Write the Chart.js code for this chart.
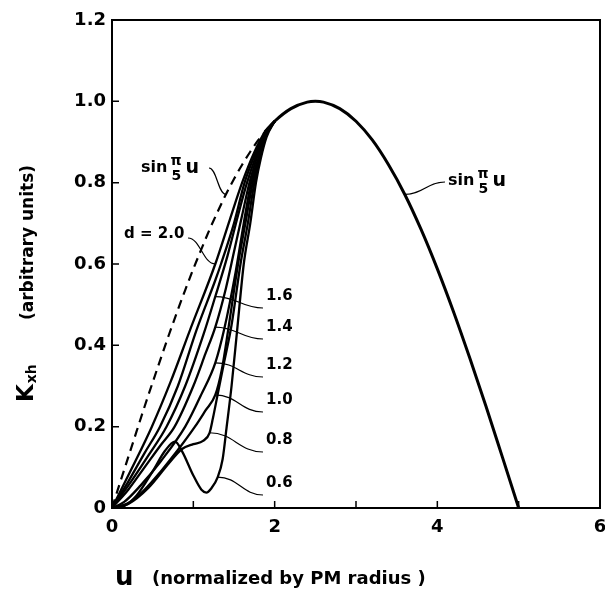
<!DOCTYPE html>
<html><head><meta charset="utf-8">
<script src="https://cdn.jsdelivr.net/npm/chart.js@4.4.0/dist/chart.umd.min.js"></script>
<style>html,body{margin:0;padding:0;background:#fff}#wrap{width:605px;height:604px}</style>
</head><body><div id="wrap"><canvas id="c" width="605" height="604"></canvas></div>
<script>
// ---- tick values / labels ----
const xTicks = [0, 1, 2, 3, 4, 5, 6];
const xTickLabels = ['0', '', '2', '', '4', '', '6'];
const yTicks = [0, 0.2, 0.4, 0.6, 0.8, 1.0, 1.2];
const yTickLabels = ['0', '0.2', '0.4', '0.6', '0.8', '1.0', '1.2'];

// ---- dashed: sin(pi/5 u), left branch ----
const uSinLeft = [0, 0.1, 0.2, 0.3, 0.4, 0.5, 0.6, 0.7, 0.8, 0.9, 1.0, 1.1, 1.2, 1.3, 1.4, 1.5, 1.6, 1.7, 1.8, 1.88];
const kSinLeft = [0, 0.063, 0.125, 0.187, 0.249, 0.309, 0.368, 0.426, 0.482, 0.536, 0.588, 0.637, 0.685, 0.729, 0.771, 0.809, 0.844, 0.876, 0.905, 0.925];

// ---- solid: sin(pi/5 u), right branch ----
const uSinRight = [1.88, 2.0, 2.2, 2.4, 2.5, 2.6, 2.8, 3.0, 3.2, 3.4, 3.6, 3.8, 4.0, 4.2, 4.4, 4.6, 4.8, 5.0];
const kSinRight = [0.925, 0.951, 0.982, 0.998, 1.0, 0.998, 0.982, 0.951, 0.905, 0.844, 0.771, 0.685, 0.588, 0.482, 0.368, 0.249, 0.125, 0.0];

// ---- family of curves, parameter d ----
const u_d20 = [0, 0.25, 0.49, 0.72, 0.96, 1.27, 1.45, 1.60, 1.75, 1.88, 2.0];
const k_d20 = [0, 0.10, 0.20, 0.31, 0.438, 0.60, 0.71, 0.80, 0.875, 0.925, 0.951];

const u_d18 = [0, 0.2, 0.4, 0.59, 0.81, 1.04, 1.27, 1.34, 1.50, 1.63, 1.76, 1.88, 2.0];
const k_d18 = [0, 0.065, 0.135, 0.20, 0.30, 0.438, 0.56, 0.60, 0.70, 0.80, 0.87, 0.922, 0.951];

const u_d16 = [0, 0.2, 0.45, 0.67, 0.90, 1.13, 1.27, 1.42, 1.55, 1.66, 1.77, 1.88, 2.0];
const k_d16 = [0, 0.055, 0.13, 0.20, 0.30, 0.43, 0.52, 0.62, 0.72, 0.80, 0.865, 0.92, 0.951];

const u_d14 = [0, 0.2, 0.4, 0.6, 0.77, 1.0, 1.15, 1.27, 1.40, 1.50, 1.60, 1.69, 1.78, 1.88, 2.0];
const k_d14 = [0, 0.045, 0.10, 0.155, 0.20, 0.30, 0.38, 0.445, 0.54, 0.63, 0.72, 0.80, 0.86, 0.918, 0.951];

const u_d12 = [0, 0.15, 0.35, 0.6, 0.9, 1.1, 1.27, 1.38, 1.52, 1.62, 1.71, 1.80, 1.89, 2.0];
const k_d12 = [0, 0.015, 0.055, 0.115, 0.20, 0.28, 0.357, 0.44, 0.58, 0.70, 0.80, 0.86, 0.918, 0.951];

const u_d10 = [0, 0.2, 0.4, 0.6, 0.8, 1.02, 1.15, 1.27, 1.35, 1.43, 1.55, 1.64, 1.73, 1.81, 1.89, 2.0];
const k_d10 = [0, 0.012, 0.045, 0.09, 0.14, 0.20, 0.24, 0.278, 0.34, 0.44, 0.60, 0.70, 0.80, 0.86, 0.915, 0.951];

const u_d08 = [0, 0.2, 0.45, 0.7, 0.86, 1.0, 1.12, 1.2, 1.24, 1.30, 1.38, 1.47, 1.58, 1.67, 1.75, 1.82, 1.89, 2.0];
const k_d08 = [0, 0.01, 0.05, 0.11, 0.145, 0.157, 0.165, 0.185, 0.22, 0.28, 0.36, 0.45, 0.60, 0.70, 0.80, 0.86, 0.912, 0.951];

const u_d06 = [0, 0.15, 0.3, 0.5, 0.65, 0.775, 0.86, 1.0, 1.1, 1.16, 1.22, 1.30, 1.36, 1.41, 1.47, 1.54, 1.62, 1.70, 1.77, 1.83, 1.90, 2.0];
const k_d06 = [0, 0.005, 0.03, 0.09, 0.14, 0.163, 0.14, 0.08, 0.045, 0.038, 0.048, 0.076, 0.12, 0.20, 0.30, 0.44, 0.60, 0.70, 0.80, 0.86, 0.912, 0.951];

const pts = (us, ks) => us.map((u, i) => ({x: u, y: ks[i]}));

const family = [
  ['d=2.0', u_d20, k_d20], ['d=1.8', u_d18, k_d18], ['d=1.6', u_d16, k_d16], ['d=1.4', u_d14, k_d14],
  ['d=1.2', u_d12, k_d12], ['d=1.0', u_d10, k_d10], ['d=0.8', u_d08, k_d08], ['d=0.6', u_d06, k_d06]
];

const datasets = family.map(([name, us, ks]) => ({
  label: name, data: pts(us, ks), borderColor: '#000', borderWidth: 2.3,
  pointRadius: 0, fill: false, cubicInterpolationMode: 'monotone'
}));
datasets.push({label: 'sin left', data: pts(uSinLeft, kSinLeft), borderColor: '#000', borderWidth: 2.2,
  borderDash: [9, 6], pointRadius: 0, fill: false, cubicInterpolationMode: 'monotone'});
datasets.push({label: 'sin right', data: pts(uSinRight, kSinRight), borderColor: '#000', borderWidth: 3,
  pointRadius: 0, fill: false, cubicInterpolationMode: 'monotone'});

const FONT = '"DejaVu Sans", sans-serif';

function drawSin(ctx, x, yc) {
  ctx.textBaseline = 'middle'; ctx.textAlign = 'left';
  ctx.font = 'bold 16px ' + FONT;
  ctx.fillText('sin', x, yc);
  const w = ctx.measureText('sin').width;
  const fx = x + w + 3;
  ctx.font = 'bold 14px ' + FONT;
  ctx.fillText('\u03C0', fx, yc - 7);
  ctx.fillText('5', fx + 1, yc + 8);
  ctx.font = 'bold 19px ' + FONT;
  ctx.fillText('u', fx + 15, yc);
}

function leader(ctx, ax, ay, bx, by) {
  const dx = (bx - ax) * 0.45;
  ctx.beginPath();
  ctx.moveTo(ax, ay);
  ctx.bezierCurveTo(ax + dx, ay, bx - dx, by, bx, by);
  ctx.stroke();
}

const deco = {
  id: 'deco',
  afterDraw(chart) {
    const {ctx, chartArea: a, scales: {x, y}} = chart;
    const P = (u, v) => [x.getPixelForValue(u), y.getPixelForValue(v)];
    ctx.save();
    ctx.strokeStyle = '#000'; ctx.fillStyle = '#000';
    ctx.lineWidth = 2;
    ctx.strokeRect(a.left, a.top, a.right - a.left, a.bottom - a.top);
    ctx.lineWidth = 1.5;
    ctx.beginPath();
    xTicks.forEach(v => { if (v > 0 && v < 6) { const px = x.getPixelForValue(v); ctx.moveTo(px, a.bottom); ctx.lineTo(px, a.bottom - 7); } });
    yTicks.forEach(v => { if (v > 0 && v < 1.2) { const py = y.getPixelForValue(v); ctx.moveTo(a.left, py); ctx.lineTo(a.left + 7, py); } });
    ctx.stroke();

    // leaders
    ctx.lineWidth = 1.2;
    const lab = [
      ['1.6', 1.27, 0.52, 296],
      ['1.4', 1.27, 0.445, 327],
      ['1.2', 1.27, 0.357, 365],
      ['1.0', 1.27, 0.278, 400],
      ['0.8', 1.2, 0.185, 440],
      ['0.6', 1.30, 0.076, 483]
    ];
    ctx.font = 'bold 15px ' + FONT; ctx.textBaseline = 'middle'; ctx.textAlign = 'left';
    lab.forEach(([t, u, v, ly]) => {
      const [ax, ay] = P(u, v);
      leader(ctx, ax, ay, 263, ly + 12);
      ctx.fillText(t, 266, ly);
    });
    // d = 2.0
    {
      const [ax, ay] = P(1.27, 0.60);
      leader(ctx, 188, 238, ax, ay);
      ctx.font = 'bold 15px ' + FONT;
      ctx.fillText('d = 2.0', 124, 234);
    }
    // sin left label
    {
      const [ax, ay] = P(1.4, 0.771);
      leader(ctx, 209, 168, ax, ay);
      drawSin(ctx, 141, 168);
    }
    // sin right label
    {
      const [ax, ay] = P(3.6, 0.771);
      leader(ctx, ax, ay, 445, 182);
      drawSin(ctx, 448, 181);
    }

    // axis titles
    ctx.textBaseline = 'middle'; ctx.textAlign = 'left';
    ctx.font = 'bold 26px ' + FONT;
    ctx.fillText('u', 115, 578);
    ctx.font = 'bold 18px ' + FONT;
    ctx.fillText('(normalized by PM radius )', 152, 579);

    ctx.save();
    ctx.translate(33, 402);
    ctx.rotate(-Math.PI / 2);
    ctx.textBaseline = 'alphabetic';
    ctx.font = 'bold 23px ' + FONT;
    ctx.fillText('K', 0, 0);
    const kw = ctx.measureText('K').width;
    ctx.font = 'bold 14px ' + FONT;
    ctx.fillText('xh', kw + 1, 3);
    ctx.font = 'bold 17px ' + FONT;
    ctx.fillText('(arbitrary units)', 82, 0);
    ctx.restore();

    ctx.restore();
  }
};

new Chart(document.getElementById('c'), {
  type: 'line',
  data: {datasets},
  options: {
    responsive: false, animation: false,
    layout: {padding: {left: 0, top: 20, right: 5, bottom: 0}},
    plugins: {legend: {display: false}, tooltip: {enabled: false}},
    elements: {point: {radius: 0}},
    scales: {
      x: {
        type: 'linear', min: 0, max: 6,
        afterBuildTicks: s => { s.ticks = xTicks.map(v => ({value: v})); },
        ticks: {callback: (v, i) => xTickLabels[i], color: '#000', font: {family: FONT, size: 18, weight: 'bold'},
          padding: 9, maxRotation: 0, autoSkip: false},
        grid: {display: false, drawTicks: false}, border: {display: false},
        afterFit: s => { s.height = 96; s.paddingLeft = 0; s.paddingRight = 0; }
      },
      y: {
        type: 'linear', min: 0, max: 1.2,
        afterBuildTicks: s => { s.ticks = yTicks.map(v => ({value: v})); },
        ticks: {callback: (v, i) => yTickLabels[i], color: '#000', font: {family: FONT, size: 18, weight: 'bold'},
          padding: 6, autoSkip: false},
        grid: {display: false, drawTicks: false}, border: {display: false},
        afterFit: s => { s.width = 112; s.paddingTop = 0; s.paddingBottom = 0; }
      }
    }
  },
  plugins: [deco]
});
</script>
</body></html>
